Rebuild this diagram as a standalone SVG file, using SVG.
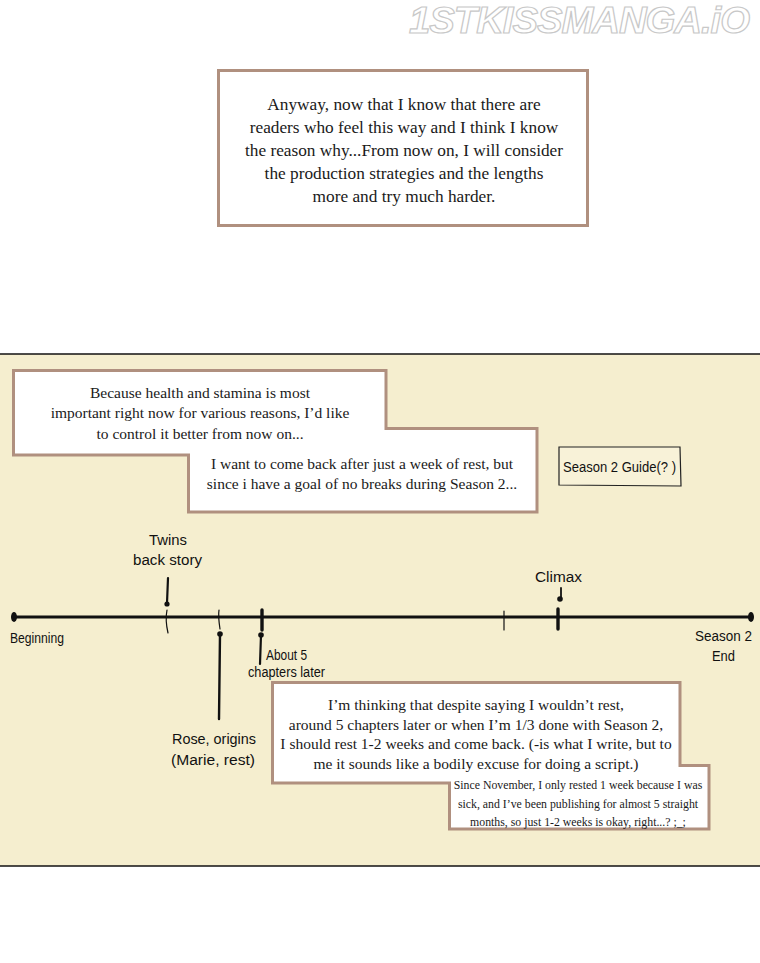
<svg xmlns="http://www.w3.org/2000/svg" width="760" height="963" viewBox="0 0 760 963">
<style>
.bub{fill:#ffffff;stroke:#b0907f;stroke-width:3}
.t{font-family:"Liberation Serif",serif;fill:#1a1a1a;text-anchor:middle}
.big{font-size:17.3px}
.mid{font-size:15.5px}
.sm{font-size:11.8px}
.h{font-family:"Liberation Sans",sans-serif;fill:#111;font-size:14px}
.ln{stroke:#111;fill:none;stroke-linecap:round}
</style>
<rect x="0" y="0" width="760" height="963" fill="#ffffff"/>
<text x="579" y="33" font-family="Liberation Sans,sans-serif" font-size="37" font-style="italic" font-weight="bold" fill="#ffffff" stroke="#c8c8c8" stroke-width="1.2" text-anchor="middle" letter-spacing="-1" textLength="340" lengthAdjust="spacingAndGlyphs">1STKISSMANGA.iO</text>

<g id="top-note">
<rect x="218.5" y="70.5" width="369" height="155" class="bub"/>
<text class="t big" x="404" y="110">Anyway, now that I know that there are</text>
<text class="t big" x="404" y="133">readers who feel this way and I think I know</text>
<text class="t big" x="404" y="156">the reason why...From now on, I will consider</text>
<text class="t big" x="404" y="179">the production strategies and the lengths</text>
<text class="t big" x="404" y="202">more and try much harder.</text>
</g>

<g id="panel">
<rect x="0" y="354" width="760" height="512" fill="#f5eecf"/>
<line x1="0" y1="354" x2="760" y2="354" stroke="#111" stroke-width="1.5"/>
<line x1="0" y1="866" x2="760" y2="866" stroke="#111" stroke-width="1.5"/>
</g>

<g id="note-health">
<path class="bub" d="M13.5,370.5 H386 V428.5 H537 V512 H188.5 V455 H13.5 Z"/>
<text class="t mid" x="200" y="398">Because health and stamina is most</text>
<text class="t mid" x="200" y="418">important right now for various reasons, I’d like</text>
<text class="t mid" x="200" y="439">to control it better from now on...</text>
<text class="t mid" x="362" y="469">I want to come back after just a week of rest, but</text>
<text class="t mid" x="362" y="489">since i have a goal of no breaks during Season 2...</text>
</g>

<g id="guide">
<path d="M559,447 L680,447 L681,486 L559,485 Z" fill="#f8f2d8" stroke="#222" stroke-width="1.2"/>
<text class="h" x="563" y="472" font-size="13.5" textLength="113" lengthAdjust="spacingAndGlyphs">Season 2 Guide(? )</text>
</g>

<g id="connectors">
<line class="ln" x1="13" y1="617" x2="752" y2="617" stroke-width="2.8"/>
<ellipse cx="14" cy="617" rx="3" ry="5" fill="#111"/>
<ellipse cx="751" cy="617" rx="3" ry="5" fill="#111"/>
<line class="ln" x1="168" y1="578" x2="167" y2="603" stroke-width="2.2"/>
<circle cx="167" cy="604" r="2.6" fill="#111"/>
<path class="ln" d="M167,610 Q165,620 168,633" stroke-width="1.2"/>
<path class="ln" d="M219,610 Q218,616 220,629" stroke-width="1.2"/>
<circle cx="220" cy="634" r="2.8" fill="#111"/>
<line class="ln" x1="220" y1="634" x2="219" y2="719" stroke-width="2.4"/>
<line class="ln" x1="262" y1="610" x2="262" y2="630" stroke-width="3.4"/>
<circle cx="261" cy="635" r="2.8" fill="#111"/>
<line class="ln" x1="261" y1="635" x2="260" y2="664" stroke-width="2.2"/>
<line class="ln" x1="504" y1="611" x2="504" y2="630" stroke-width="1.2"/>
<line class="ln" x1="558" y1="609" x2="558" y2="629" stroke-width="3.4"/>
<line class="ln" x1="561" y1="588" x2="561" y2="598" stroke-width="1.8"/>
<circle cx="560" cy="599" r="2.8" fill="#111"/>
</g>

<g id="labels">
<text class="h" x="149" y="545" textLength="38" lengthAdjust="spacingAndGlyphs">Twins</text>
<text class="h" x="133" y="565" textLength="69" lengthAdjust="spacingAndGlyphs">back story</text>
<text class="h" x="10" y="643" font-size="13" textLength="54" lengthAdjust="spacingAndGlyphs">Beginning</text>
<text class="h" x="266" y="660" font-size="12.5" textLength="41" lengthAdjust="spacingAndGlyphs">About 5</text>
<text class="h" x="248" y="677" font-size="12.5" textLength="77" lengthAdjust="spacingAndGlyphs">chapters later</text>
<text class="h" x="172" y="744" textLength="84" lengthAdjust="spacingAndGlyphs">Rose, origins</text>
<text class="h" x="171" y="765" textLength="84" lengthAdjust="spacingAndGlyphs">(Marie, rest)</text>
<text class="h" x="535" y="582" textLength="47" lengthAdjust="spacingAndGlyphs">Climax</text>
<text class="h" x="695" y="641" textLength="57" lengthAdjust="spacingAndGlyphs">Season 2</text>
<text class="h" x="712" y="661" textLength="23" lengthAdjust="spacingAndGlyphs">End</text>
</g>

<g id="note-rest">
<path class="bub" d="M272.5,682.5 H680 V765.5 H709 V829 H449.5 V783 H272.5 Z"/>
<text class="t mid" x="476" y="710">I’m thinking that despite saying I wouldn’t rest,</text>
<text class="t mid" x="476" y="730">around 5 chapters later or when I’m 1/3 done with Season 2,</text>
<text class="t mid" x="476" y="749">I should rest 1-2 weeks and come back. (-is what I write, but to</text>
<text class="t mid" x="476" y="769">me it sounds like a bodily excuse for doing a script.)</text>
<text class="t sm" x="578" y="789">Since November, I only rested 1 week because I was</text>
<text class="t sm" x="578" y="808">sick, and I’ve been publishing for almost 5 straight</text>
<text class="t sm" x="578" y="826">months, so just 1-2 weeks is okay, right...? ;_;</text>
</g>
</svg>
